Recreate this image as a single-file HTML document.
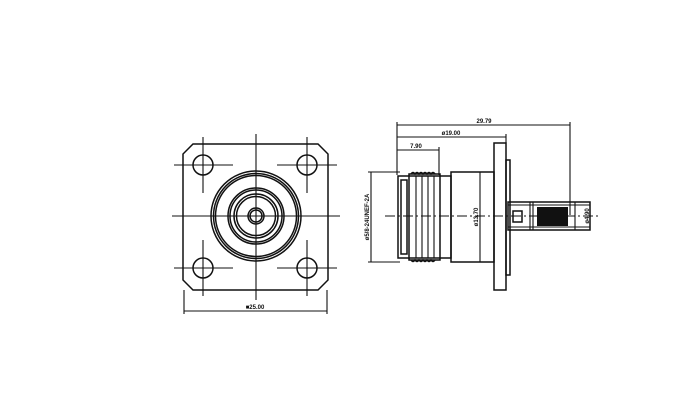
<!DOCTYPE html>
<html><head><style>body{margin:0;background:#fff}svg{display:block}</style></head><body>
<svg width="700" height="412" viewBox="0 0 700 412" xmlns="http://www.w3.org/2000/svg" font-family="Liberation Sans, sans-serif">
<g fill="none" stroke="#111" stroke-width="1.5">
<!-- front view -->
<path d="M193 144 H318 L328 154 V280 L318 290 H193 L183 280 V154 Z"/>
<circle cx="203" cy="165" r="10"/><circle cx="307" cy="165" r="10"/>
<circle cx="203" cy="268" r="10"/><circle cx="307" cy="268" r="10"/>
<circle cx="256" cy="216" r="45"/><circle cx="256" cy="216" r="42.5"/><circle cx="256" cy="216" r="40.5"/>
<circle cx="256" cy="216" r="28"/><circle cx="256" cy="216" r="26"/><circle cx="256" cy="216" r="22"/><circle cx="256" cy="216" r="19.5"/>
<circle cx="256" cy="216" r="8"/><circle cx="256" cy="216" r="6"/>
</g>
<g stroke="#111" stroke-width="1.1">
<line x1="256" y1="134" x2="256" y2="300"/><line x1="172" y1="216" x2="340" y2="216"/>
<line x1="203" y1="137" x2="203" y2="193"/><line x1="174" y1="165" x2="233" y2="165"/>
<line x1="307" y1="137" x2="307" y2="193"/><line x1="277" y1="165" x2="337" y2="165"/>
<line x1="203" y1="240" x2="203" y2="296"/><line x1="174" y1="268" x2="233" y2="268"/>
<line x1="307" y1="240" x2="307" y2="296"/><line x1="277" y1="268" x2="337" y2="268"/>
<line x1="184" y1="290" x2="184" y2="314"/><line x1="327" y1="290" x2="327" y2="314"/>
<line x1="184" y1="311" x2="327" y2="311"/>
</g>
<text x="255" y="309" font-size="6" font-weight="bold" text-anchor="middle" fill="#111">■25.00</text>
<!-- side view -->
<g stroke="#111" stroke-width="1.1" fill="none">
<line x1="397" y1="125" x2="570" y2="125"/><line x1="397" y1="137" x2="506" y2="137"/><line x1="397" y1="150" x2="439" y2="150"/>
<line x1="397" y1="122" x2="397" y2="175"/><line x1="439" y1="147" x2="439" y2="175"/><line x1="506" y1="134" x2="506" y2="143"/><line x1="570" y1="122" x2="570" y2="215"/>
<line x1="371" y1="172" x2="371" y2="262"/><line x1="368" y1="172" x2="400" y2="172"/><line x1="368" y1="262" x2="400" y2="262"/>
</g>
<g fill="none" stroke="#111" stroke-width="1.5">
<rect x="398" y="176" width="53" height="82"/>
<rect x="401" y="180" width="6" height="74"/>
<rect x="409" y="174" width="31" height="86"/>
<path d="M411 174 q2 -3 4 0 q2 -3 4 0 q2 -3 4 0 q2 -3 4 0 q2 -3 4 0 q2 -3 4 0 M411 260 q2 3 4 0 q2 3 4 0 q2 3 4 0 q2 3 4 0 q2 3 4 0 q2 3 4 0"/>
<rect x="451" y="172" width="43" height="90"/>
<rect x="494" y="143" width="12" height="147"/>
<rect x="506" y="160" width="4" height="115"/>
<rect x="508" y="202" width="82" height="28"/>
<rect x="513" y="211" width="9" height="11"/>
</g>
<g stroke="#111" stroke-width="1.1">
<line x1="416" y1="176" x2="416" y2="258"/><line x1="422" y1="176" x2="422" y2="258"/><line x1="428" y1="176" x2="428" y2="258"/><line x1="434" y1="176" x2="434" y2="258"/>
<line x1="480" y1="172" x2="480" y2="262"/>
<line x1="508" y1="205" x2="590" y2="205"/><line x1="508" y1="227" x2="590" y2="227"/>
<line x1="530" y1="202" x2="530" y2="230"/><line x1="533" y1="202" x2="533" y2="230"/>
<line x1="575" y1="202" x2="575" y2="230"/>
<line x1="385" y1="216" x2="600" y2="216" stroke-dasharray="10 3 2 3"/>
</g>
<rect x="537" y="207" width="31" height="19" fill="#111"/>
<g font-size="6" font-weight="bold" fill="#111" text-anchor="middle">
<text x="484" y="123">29.79</text>
<text x="451" y="135">ø19.00</text>
<text x="416" y="148">7.90</text>
<text transform="translate(369 217) rotate(-90)">ø5/8-24UNEF-2A</text>
<text transform="translate(478 217) rotate(-90)">ø13.70</text>
<text transform="translate(589 216) rotate(-90)">ø4.90</text>
</g>
</svg>
</body></html>
